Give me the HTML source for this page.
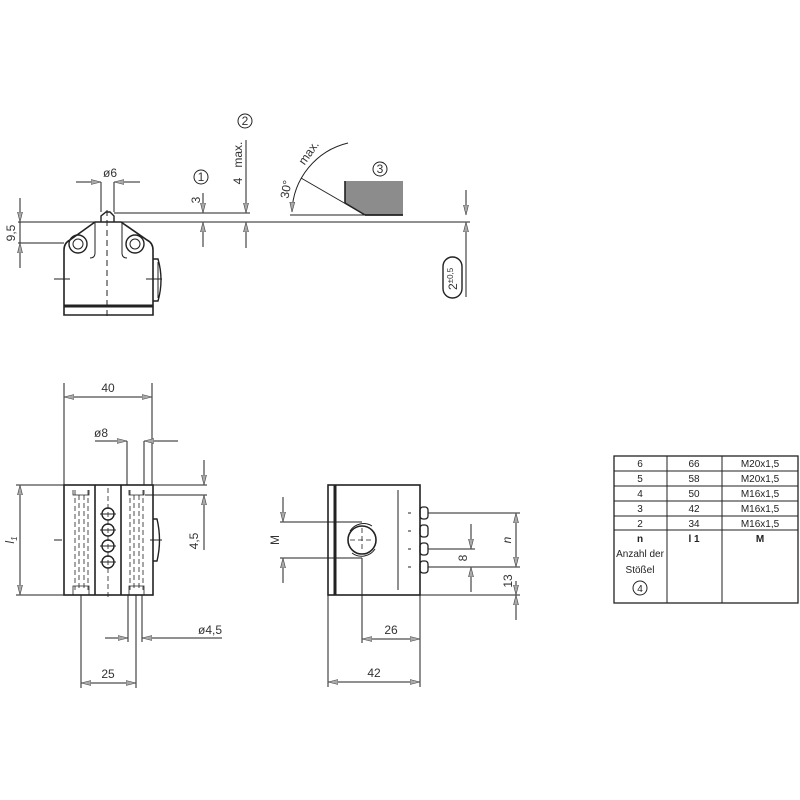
<!DOCTYPE html>
<html><head><meta charset="utf-8"><style>
html,body{margin:0;padding:0;background:#fff}
svg{display:block}
text{font-family:"Liberation Sans",sans-serif;fill:#333;font-size:12px}
.t{font-size:10px;fill:#222}
</style></head><body>
<svg width="800" height="800" viewBox="0 0 800 800" xmlns="http://www.w3.org/2000/svg">
<defs>
<marker id="a" markerWidth="11" markerHeight="6" refX="10" refY="3" orient="auto" markerUnits="userSpaceOnUse">
<path d="M0,0.5 L10,3 L0,5.5 z" fill="#aaa" stroke="#444" stroke-width="0.6"/>
</marker>
</defs>
<g stroke="#222" stroke-width="1" fill="none">
<!-- TOP VIEW -->
<line x1="18" y1="222" x2="470" y2="222"/>
<line x1="114" y1="213" x2="250" y2="213"/>
<line x1="290" y1="215" x2="403" y2="215"/>
<line x1="18" y1="243" x2="64" y2="243"/>
<path d="M64,315 L64,250 Q64,243 70,240 L95,222 L121,222 L147,240 Q153,243 153,250 L153,315 Z" stroke-width="1.6"/>
<path d="M95,222 L95,253 Q95,258 90,258" />
<path d="M122,222 L122,253 Q122,258 127,258"/>
<line x1="64" y1="306" x2="153" y2="306" stroke-width="3"/>
<circle cx="78" cy="244" r="9" stroke-width="1.4"/><circle cx="78" cy="244" r="5"/>
<circle cx="135" cy="244" r="9" stroke-width="1.4"/><circle cx="135" cy="244" r="5"/>
<path d="M101,222 L101,216 L106,212 L110,212 L114,216 L114,222" stroke-width="1.4"/>
<path d="M153,259 L158,259 Q164,280 158,301 L153,301" stroke-width="1.4"/>
<line x1="158" y1="262" x2="158" y2="298"/>
<line x1="107" y1="210" x2="107" y2="318" stroke-dasharray="6,4"/>
<line x1="54" y1="279" x2="70" y2="279"/><line x1="146" y1="279" x2="162" y2="279"/>
<!-- 9,5 -->
<line x1="20" y1="198" x2="20" y2="222" marker-end="url(#a)"/>
<line x1="20" y1="268" x2="20" y2="243" marker-end="url(#a)"/>
<line x1="20" y1="222" x2="20" y2="243"/>
<!-- ø6 -->
<line x1="76" y1="182" x2="101" y2="182" marker-end="url(#a)"/>
<line x1="140" y1="182" x2="114" y2="182" marker-end="url(#a)"/>
<line x1="101" y1="182" x2="101" y2="212"/><line x1="114" y1="182" x2="114" y2="212"/>
<!-- 3 -->
<line x1="203" y1="193" x2="203" y2="213" marker-end="url(#a)"/>
<line x1="203" y1="247" x2="203" y2="222" marker-end="url(#a)"/>
<circle cx="201" cy="177" r="7"/>
<!-- 4 max -->
<line x1="246" y1="140" x2="246" y2="213" marker-end="url(#a)"/>
<line x1="246" y1="248" x2="246" y2="222" marker-end="url(#a)"/>
<circle cx="245" cy="121" r="7"/>
<!-- arc -->
<path d="M348,143 A73,73 0 0 0 292,212" marker-end="url(#a)"/>
<line x1="301" y1="178" x2="365" y2="215"/>
<path d="M345,181 L403,181 L403,215 L365,215 L345,203 Z" fill="#8c8c8c" stroke="none"/>
<line x1="345" y1="181" x2="345" y2="203" stroke-width="1.6"/>
<line x1="365" y1="215" x2="403" y2="215" stroke-width="1.8"/>
<line x1="345" y1="203" x2="365" y2="215" stroke-width="1.4"/>
<circle cx="380" cy="169" r="7"/>
<!-- 2±0,5 -->
<line x1="466" y1="190" x2="466" y2="215" marker-end="url(#a)"/>
<line x1="466" y1="297" x2="466" y2="222" marker-end="url(#a)"/>
<rect x="443" y="257" width="19" height="41" rx="9.5" stroke-width="1.4"/>

<!-- BOTTOM LEFT -->
<rect x="64" y="485" width="89" height="110" stroke-width="1.6"/>
<line x1="95" y1="485" x2="95" y2="595" stroke-width="1.6"/>
<line x1="121" y1="485" x2="121" y2="595" stroke-width="1.6"/>
<g stroke-dasharray="5,3" stroke-width="0.8">
<line x1="75" y1="490" x2="75" y2="590"/><line x1="79" y1="495" x2="79" y2="590"/><line x1="84" y1="495" x2="84" y2="590"/><line x1="88" y1="490" x2="88" y2="590"/>
<line x1="130" y1="490" x2="130" y2="590"/><line x1="134" y1="495" x2="134" y2="590"/><line x1="139" y1="495" x2="139" y2="590"/><line x1="143" y1="490" x2="143" y2="590"/>
<line x1="108" y1="488" x2="108" y2="598"/>
</g>
<path d="M73,490 L73,495 L89,495 L89,490" stroke-width="0.8"/>
<path d="M129,490 L129,495 L144,495 L144,490" stroke-width="0.8"/>
<path d="M73,595 L73,586 L89,586 L89,595" stroke-width="0.8"/>
<path d="M129,595 L129,586 L144,586 L144,595" stroke-width="0.8"/>
<circle cx="108" cy="514" r="6" stroke-width="1.4"/><circle cx="108" cy="530" r="6" stroke-width="1.4"/>
<circle cx="108" cy="546" r="6" stroke-width="1.4"/><circle cx="108" cy="562" r="6" stroke-width="1.4"/>
<line x1="100" y1="514" x2="116" y2="514"/><line x1="100" y1="530" x2="116" y2="530"/><line x1="100" y1="546" x2="116" y2="546"/><line x1="100" y1="562" x2="116" y2="562"/>
<path d="M153,519 L157,519 Q162,540 157,561 L153,561" stroke-width="1.4"/>
<line x1="54" y1="540" x2="62" y2="540"/><line x1="150" y1="540" x2="162" y2="540"/>
<!-- 40 -->
<line x1="64" y1="383" x2="64" y2="485"/><line x1="152" y1="383" x2="152" y2="485"/>
<line x1="64" y1="397" x2="152" y2="397"/>
<line x1="80" y1="397" x2="64" y2="397" marker-end="url(#a)"/><line x1="136" y1="397" x2="152" y2="397" marker-end="url(#a)"/>
<!-- ø8 -->
<line x1="95" y1="441" x2="127" y2="441" marker-end="url(#a)"/>
<line x1="178" y1="441" x2="144" y2="441" marker-end="url(#a)"/>
<line x1="127" y1="441" x2="127" y2="485"/><line x1="144" y1="441" x2="144" y2="485"/>
<!-- 4,5 -->
<line x1="153" y1="485" x2="207" y2="485"/><line x1="145" y1="495" x2="207" y2="495"/>
<line x1="204" y1="460" x2="204" y2="485" marker-end="url(#a)"/>
<line x1="204" y1="550" x2="204" y2="495" marker-end="url(#a)"/>
<!-- l1 -->
<line x1="16" y1="485" x2="64" y2="485"/><line x1="16" y1="595" x2="64" y2="595"/>
<line x1="20" y1="540" x2="20" y2="485" marker-end="url(#a)"/><line x1="20" y1="540" x2="20" y2="595" marker-end="url(#a)"/>
<!-- ø4,5 -->
<line x1="105" y1="638" x2="128" y2="638" marker-end="url(#a)"/>
<line x1="222" y1="638" x2="142" y2="638" marker-end="url(#a)"/>
<line x1="128" y1="595" x2="128" y2="642"/><line x1="142" y1="595" x2="142" y2="642"/>
<!-- 25 -->
<line x1="81" y1="595" x2="81" y2="688"/><line x1="136" y1="595" x2="136" y2="688"/>
<line x1="81" y1="683" x2="136" y2="683"/>
<line x1="97" y1="683" x2="81" y2="683" marker-end="url(#a)"/><line x1="120" y1="683" x2="136" y2="683" marker-end="url(#a)"/>

<!-- BOTTOM MIDDLE -->
<rect x="328" y="485" width="92" height="110" stroke-width="1.6"/>
<line x1="335" y1="485" x2="335" y2="595" stroke-width="3"/>
<circle cx="362" cy="540" r="14" stroke-width="1.6"/>
<path d="M350,531 A16,16 0 0 1 372,526" />
<path d="M375,549 A16,16 0 0 1 352,553" />
<g stroke-dasharray="5,3" stroke-width="0.8">
<line x1="350" y1="540" x2="374" y2="540"/><line x1="362" y1="528" x2="362" y2="552"/>
</g>
<line x1="398" y1="490" x2="398" y2="590"/>
<g stroke-width="1.3">
<rect x="420" y="507" width="8" height="12" rx="3"/><rect x="420" y="525" width="8" height="12" rx="3"/>
<rect x="420" y="543" width="8" height="12" rx="3"/><rect x="420" y="561" width="8" height="12" rx="3"/>
</g>
<line x1="408" y1="513" x2="411" y2="513"/><line x1="408" y1="531" x2="411" y2="531"/><line x1="408" y1="549" x2="411" y2="549"/><line x1="408" y1="567" x2="411" y2="567"/>
<!-- M -->
<line x1="280" y1="522" x2="362" y2="522"/><line x1="280" y1="558" x2="362" y2="558"/>
<line x1="283" y1="497" x2="283" y2="522" marker-end="url(#a)"/>
<line x1="283" y1="583" x2="283" y2="558" marker-end="url(#a)"/>
<!-- n / 8 / 13 -->
<line x1="428" y1="513" x2="520" y2="513"/><line x1="428" y1="549" x2="475" y2="549"/>
<line x1="428" y1="567" x2="520" y2="567"/><line x1="420" y1="595" x2="520" y2="595"/>
<line x1="516" y1="540" x2="516" y2="513" marker-end="url(#a)"/><line x1="516" y1="540" x2="516" y2="567" marker-end="url(#a)"/>
<line x1="471" y1="524" x2="471" y2="549" marker-end="url(#a)"/><line x1="471" y1="592" x2="471" y2="567" marker-end="url(#a)"/>
<line x1="516" y1="581" x2="516" y2="595" marker-end="url(#a)"/><line x1="516" y1="620" x2="516" y2="595" marker-end="url(#a)"/>
<!-- 26 / 42 -->
<line x1="362" y1="558" x2="362" y2="643"/>
<line x1="328" y1="595" x2="328" y2="687"/><line x1="420" y1="595" x2="420" y2="687"/>
<line x1="362" y1="639" x2="420" y2="639"/>
<line x1="378" y1="639" x2="362" y2="639" marker-end="url(#a)"/><line x1="404" y1="639" x2="420" y2="639" marker-end="url(#a)"/>
<line x1="328" y1="682" x2="420" y2="682"/>
<line x1="344" y1="682" x2="328" y2="682" marker-end="url(#a)"/><line x1="404" y1="682" x2="420" y2="682" marker-end="url(#a)"/>

<!-- TABLE -->
<rect x="614" y="456" width="184" height="147" stroke-width="1.3"/>
<line x1="667" y1="456" x2="667" y2="603"/><line x1="722" y1="456" x2="722" y2="603"/>
<line x1="614" y1="471" x2="798" y2="471"/><line x1="614" y1="486" x2="798" y2="486"/>
<line x1="614" y1="501" x2="798" y2="501"/><line x1="614" y1="516" x2="798" y2="516"/>
<line x1="614" y1="530" x2="798" y2="530"/>
<circle cx="640" cy="588" r="7"/>
</g>
<!-- texts -->
<text transform="translate(15,233) rotate(-90)" text-anchor="middle">9,5</text>
<text x="110" y="177" text-anchor="middle">ø6</text>
<text transform="translate(200,200) rotate(-90)" text-anchor="middle">3</text>
<text x="201" y="181" text-anchor="middle" font-size="10">1</text>
<text transform="translate(242,163) rotate(-90)" text-anchor="middle" xml:space="preserve">4   max.</text>
<text x="245" y="125" text-anchor="middle" font-size="10">2</text>
<text transform="translate(290,190) rotate(-80)" text-anchor="middle">30°</text>
<text transform="translate(312,155) rotate(-55)" text-anchor="middle">max.</text>
<text x="380" y="173" text-anchor="middle" font-size="10">3</text>
<text transform="translate(457,290) rotate(-90)" font-size="12">2<tspan font-size="8" dy="-4">±0,5</tspan></text>
<text x="108" y="392" text-anchor="middle">40</text>
<text x="101" y="437" text-anchor="middle">ø8</text>
<text transform="translate(198,541) rotate(-90)" text-anchor="middle">4,5</text>
<text transform="translate(14,540) rotate(-90)" text-anchor="middle" font-style="italic">l<tspan font-size="8" dy="3">1</tspan></text>
<text x="210" y="634" text-anchor="middle">ø4,5</text>
<text x="108" y="678" text-anchor="middle">25</text>
<text transform="translate(279,540) rotate(-90)" text-anchor="middle">M</text>
<text transform="translate(511,540) rotate(-90)" text-anchor="middle" font-style="italic">n</text>
<text transform="translate(467,558) rotate(-90)" text-anchor="middle">8</text>
<text transform="translate(512,581) rotate(-90)" text-anchor="middle">13</text>
<text x="391" y="634" text-anchor="middle">26</text>
<text x="374" y="677" text-anchor="middle">42</text>
<g class="t" text-anchor="middle">
<text class="t" x="640" y="467">6</text><text class="t" x="694" y="467">66</text><text class="t" x="760" y="467">M20x1,5</text>
<text class="t" x="640" y="482">5</text><text class="t" x="694" y="482">58</text><text class="t" x="760" y="482">M20x1,5</text>
<text class="t" x="640" y="497">4</text><text class="t" x="694" y="497">50</text><text class="t" x="760" y="497">M16x1,5</text>
<text class="t" x="640" y="512">3</text><text class="t" x="694" y="512">42</text><text class="t" x="760" y="512">M16x1,5</text>
<text class="t" x="640" y="527">2</text><text class="t" x="694" y="527">34</text><text class="t" x="760" y="527">M16x1,5</text>
<text class="t" x="640" y="542" font-weight="bold">n</text><text class="t" x="694" y="542" font-weight="bold">l 1</text><text class="t" x="760" y="542" font-weight="bold">M</text>
<text class="t" x="640" y="557">Anzahl der</text>
<text class="t" x="640" y="573">Stößel</text>
<text class="t" x="640" y="592">4</text>
</g>
</svg>
</body></html>
